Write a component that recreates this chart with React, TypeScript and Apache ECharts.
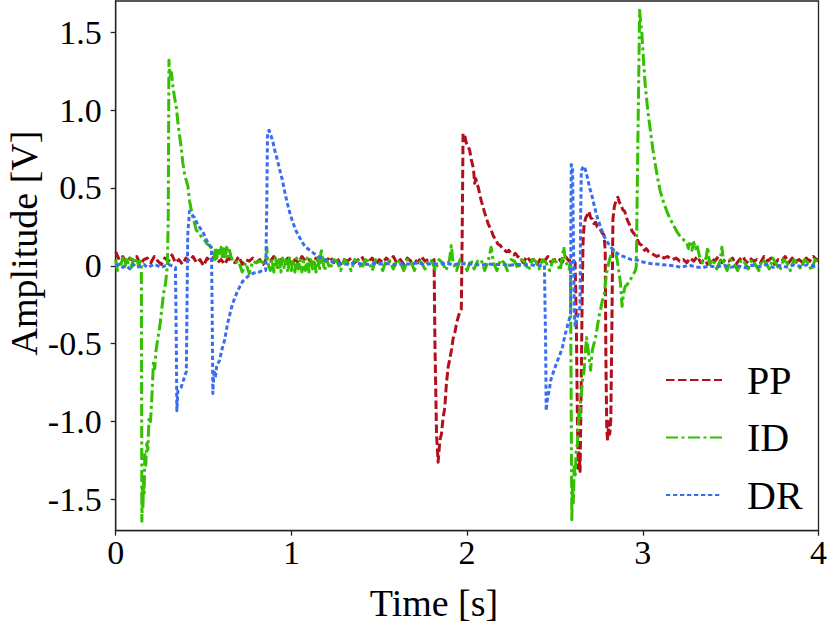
import React, { useEffect, useRef } from "react";
import * as echarts from "echarts";

const seriesNames = ["PP", "ID", "DR"];
const seriesColors = ["#b3101d", "#33c000", "#3a6ef2"];
const seriesDash = [[8.5, 3.5], [12, 3.5, 3, 3.5], [4.3, 2.7]];
const xTicks = [0, 1, 2, 3, 4];
const yTicks = [-1.5, -1, -0.5, 0, 0.5, 1, 1.5];
const xTitle = "Time [s]";
const yTitle = "Amplitude [V]";

const ppData = [
  [0, 0.09], [0.02, 0.04], [0.04, 0.06], [0.06, 0.02], [0.08, 0.05], [0.1, 0.03], [0.12, 0.06], [0.14, 0.01], [0.16, 0.04], [0.18, 0.05],
  [0.2, 0.02], [0.22, 0.06], [0.24, 0.03], [0.26, 0.01], [0.28, 0.05], [0.3, 0.03], [0.32, 0.07], [0.34, 0.02], [0.36, 0.04], [0.38, 0.01],
  [0.4, 0.05], [0.42, 0.03], [0.44, 0.06], [0.46, 0.02], [0.48, 0.04], [0.5, 0.0], [0.52, 0.05], [0.54, 0.03], [0.56, 0.06], [0.58, 0.02],
  [0.6, 0.04], [0.62, 0.01], [0.64, 0.05], [0.66, 0.03], [0.68, 0.02], [0.7, 0.06], [0.72, 0.01], [0.74, 0.04], [0.76, 0.03], [0.78, 0.05],
  [0.8, 0.02], [0.82, 0.04], [0.84, 0.01], [0.86, 0.05], [0.88, 0.03], [0.9, 0.06], [0.92, 0.02], [0.94, 0.04], [0.96, 0.03], [0.98, 0.05],
  [1.0, 0.01], [1.02, 0.04], [1.04, 0.02], [1.06, 0.06], [1.08, 0.03], [1.1, 0.04], [1.12, 0.01], [1.14, 0.05], [1.16, 0.02], [1.18, 0.04],
  [1.2, 0.03], [1.22, 0.06], [1.24, 0.02], [1.26, 0.05], [1.28, 0.01], [1.3, 0.04], [1.32, 0.03], [1.34, 0.05], [1.36, 0.02], [1.38, 0.04],
  [1.4, 0.06], [1.42, 0.02], [1.44, 0.03], [1.46, 0.05], [1.48, 0.01], [1.5, 0.04], [1.52, 0.02], [1.54, 0.05], [1.56, 0.03], [1.58, 0.06],
  [1.6, 0.02], [1.62, 0.04], [1.64, 0.01], [1.66, 0.05], [1.68, 0.03], [1.7, 0.04], [1.72, 0.02], [1.74, 0.06], [1.76, 0.03], [1.78, 0.04],
  [1.8, 0.03], [1.812, 0.04],
  [1.817, -0.5], [1.826, -1.08], [1.835, -1.26], [1.845, -1.12], [1.854, -1.08], [1.863, -0.98], [1.873, -0.91], [1.882, -0.76], [1.892, -0.65],
  [1.901, -0.6], [1.911, -0.54], [1.92, -0.47], [1.93, -0.43], [1.94, -0.37], [1.949, -0.33], [1.958, -0.3], [1.967, -0.28], [1.972, 0.2],
  [1.977, 0.85], [1.988, 0.83], [1.995, 0.79], [2.005, 0.77], [2.015, 0.74], [2.024, 0.68], [2.033, 0.64], [2.038, 0.6], [2.043, 0.53],
  [2.05, 0.56], [2.056, 0.52], [2.062, 0.51], [2.07, 0.47], [2.08, 0.42], [2.09, 0.38], [2.1, 0.34], [2.109, 0.31], [2.12, 0.27], [2.137, 0.23],
  [2.15, 0.19], [2.162, 0.17], [2.175, 0.14], [2.19, 0.13], [2.2, 0.11], [2.213, 0.1], [2.225, 0.09], [2.238, 0.1], [2.25, 0.08], [2.265, 0.07],
  [2.275, 0.08], [2.288, 0.06],
  [2.3, 0.05], [2.32, 0.02], [2.34, 0.06], [2.36, 0.03], [2.38, 0.04], [2.4, 0.01], [2.42, 0.05], [2.44, 0.03], [2.46, 0.06], [2.48, 0.02],
  [2.5, 0.04], [2.52, 0.05], [2.54, 0.02], [2.56, 0.06], [2.58, 0.03], [2.6, 0.04], [2.615, 0.02],
  [2.622, -0.4], [2.628, -1.0], [2.633, -1.3], [2.638, -1.2], [2.643, -1.32], [2.648, -0.9], [2.655, -0.2], [2.66, 0.15], [2.666, 0.27],
  [2.676, 0.31], [2.686, 0.33], [2.694, 0.35], [2.703, 0.31], [2.713, 0.3], [2.722, 0.27], [2.732, 0.28], [2.741, 0.25], [2.755, 0.24],
  [2.769, 0.21], [2.779, 0.2], [2.786, 0.1], [2.79, -0.6], [2.795, -1.05], [2.8, -1.12], [2.806, -1.0], [2.812, -1.08], [2.818, -0.98],
  [2.824, -0.4], [2.83, 0.3], [2.838, 0.38], [2.848, 0.42], [2.858, 0.44], [2.866, 0.41], [2.876, 0.39], [2.886, 0.36], [2.897, 0.35],
  [2.91, 0.3], [2.926, 0.26], [2.94, 0.22], [2.955, 0.2], [2.968, 0.17], [2.982, 0.14], [2.996, 0.13], [3.01, 0.1], [3.02, 0.11], [3.034, 0.09],
  [3.05, 0.08], [3.065, 0.07], [3.08, 0.06], [3.1, 0.07], [3.12, 0.05], [3.14, 0.06], [3.153, 0.05], [3.17, 0.04], [3.19, 0.05], [3.21, 0.03],
  [3.231, 0.04],
  [3.25, 0.02], [3.27, 0.05], [3.29, 0.03], [3.31, 0.06], [3.33, 0.02], [3.35, 0.04], [3.37, 0.01], [3.39, 0.05], [3.41, 0.03], [3.43, 0.06],
  [3.45, 0.02], [3.47, 0.04], [3.49, 0.03], [3.51, 0.05], [3.53, 0.01], [3.55, 0.04], [3.57, 0.06], [3.59, 0.02], [3.61, 0.05], [3.63, 0.03],
  [3.65, 0.04], [3.67, 0.02], [3.69, 0.06], [3.71, 0.03], [3.73, 0.05], [3.75, 0.01], [3.77, 0.04], [3.79, 0.03], [3.81, 0.06], [3.83, 0.02],
  [3.85, 0.05], [3.87, 0.03], [3.89, 0.04], [3.91, 0.02], [3.93, 0.05], [3.95, 0.03], [3.97, 0.06], [3.99, 0.04], [4.0, 0.03],
];

const idData = [
  [0, 0.04], [0.01, -0.03], [0.02, 0.03], [0.03, 0.01], [0.04, 0.05], [0.05, -0.02], [0.06, 0.04], [0.07, 0.02], [0.08, 0.05], [0.09, -0.01],
  [0.1, 0.04], [0.11, 0.02], [0.12, 0.05], [0.13, 0.0], [0.14, 0.03], [0.146, 0.02],
  [0.149, -1.64], [0.152, -1.42], [0.155, -1.56], [0.158, -1.38], [0.162, -1.46], [0.166, -1.2], [0.171, -1.28], [0.177, -1.14], [0.183, -1.18],
  [0.19, -0.97], [0.198, -1.0], [0.207, -0.82], [0.215, -0.61], [0.222, -0.66], [0.23, -0.54], [0.242, -0.45], [0.252, -0.38], [0.262, -0.28],
  [0.272, -0.18], [0.284, -0.11], [0.294, 0.0], [0.299, 0.3], [0.303, 1.32], [0.309, 1.22], [0.317, 1.24], [0.326, 1.15], [0.335, 1.08],
  [0.345, 1.02], [0.354, 0.92], [0.363, 0.84], [0.373, 0.76], [0.382, 0.66], [0.392, 0.59], [0.401, 0.55], [0.411, 0.51], [0.42, 0.42],
  [0.43, 0.36], [0.443, 0.3], [0.458, 0.23], [0.468, 0.22], [0.477, 0.21], [0.49, 0.18], [0.505, 0.165], [0.52, 0.14], [0.534, 0.13], [0.552, 0.1],
  [0.56, 0.04], [0.568, 0.12], [0.576, 0.05], [0.584, 0.11], [0.592, 0.06], [0.6, 0.12], [0.608, 0.04], [0.616, 0.11], [0.624, 0.05],
  [0.632, 0.12], [0.64, 0.06], [0.648, 0.1], [0.656, 0.06], [0.664, 0.04],
  [0.68, 0.02], [0.7, 0.03], [0.72, -0.04], [0.74, 0.02], [0.76, -0.05], [0.78, 0.03], [0.8, 0.02], [0.82, 0.03], [0.84, 0.02], [0.855, 0.03],
  [0.86, 0.12], [0.865, 0.02],
  [0.88, -0.03], [0.89, 0.04], [0.9, -0.04], [0.91, 0.05], [0.92, -0.03], [0.93, 0.04], [0.94, -0.04], [0.95, 0.05], [0.96, -0.02], [0.97, 0.04],
  [0.98, -0.04], [0.99, 0.05], [1.0, -0.03], [1.01, 0.04], [1.02, -0.04], [1.03, 0.05], [1.04, -0.02], [1.05, 0.04], [1.06, -0.04], [1.07, 0.03],
  [1.08, -0.03], [1.09, 0.05], [1.1, -0.04], [1.11, 0.04], [1.12, -0.02], [1.13, 0.04], [1.14, -0.04], [1.15, 0.05], [1.16, -0.03], [1.17, 0.11],
  [1.18, 0.02], [1.19, -0.03], [1.2, 0.04], [1.22, -0.02], [1.24, 0.04],
  [1.26, 0.03], [1.28, -0.03], [1.3, 0.04], [1.32, 0.02], [1.34, -0.03], [1.36, 0.04], [1.38, 0.03], [1.4, -0.02], [1.42, 0.04], [1.44, 0.03],
  [1.46, -0.03], [1.48, 0.04], [1.5, 0.02], [1.52, -0.03], [1.54, 0.04], [1.56, 0.03], [1.58, -0.02], [1.6, 0.04], [1.62, 0.02], [1.64, -0.03],
  [1.66, 0.04], [1.68, 0.03], [1.7, -0.03], [1.72, 0.04], [1.74, 0.02], [1.76, -0.02], [1.78, 0.04], [1.8, 0.03], [1.82, -0.03], [1.84, 0.04],
  [1.86, 0.02], [1.88, -0.03], [1.9, 0.04], [1.91, 0.13], [1.92, 0.02], [1.94, -0.03], [1.96, 0.04], [1.98, 0.02], [2.0, -0.03], [2.02, 0.04],
  [2.04, -0.02], [2.06, 0.03], [2.08, 0.04], [2.1, -0.03], [2.12, 0.03], [2.137, 0.12], [2.15, 0.02], [2.17, -0.03], [2.19, 0.04], [2.21, 0.02],
  [2.23, -0.03], [2.25, 0.04], [2.27, 0.03], [2.29, -0.02], [2.31, 0.04], [2.33, 0.02], [2.35, -0.03], [2.37, 0.04], [2.39, 0.03], [2.41, -0.02],
  [2.43, 0.04], [2.45, 0.02], [2.47, -0.03], [2.49, 0.04], [2.51, 0.02], [2.53, -0.03], [2.55, 0.12], [2.56, 0.03], [2.58, -0.02], [2.588, 0.02],
  [2.592, -0.8], [2.596, -1.63], [2.6, -1.4], [2.605, -1.52], [2.609, -1.29], [2.615, -1.36], [2.62, -1.2], [2.628, -1.14], [2.633, -1.02],
  [2.637, -0.93], [2.642, -0.98], [2.646, -0.86], [2.652, -0.8], [2.658, -0.72], [2.666, -0.67], [2.673, -0.55], [2.68, -0.46], [2.687, -0.52],
  [2.694, -0.58], [2.703, -0.67], [2.708, -0.6], [2.713, -0.54], [2.722, -0.5], [2.731, -0.46], [2.74, -0.4], [2.75, -0.33], [2.76, -0.28],
  [2.77, -0.22], [2.779, -0.2], [2.788, -0.1], [2.797, -0.03], [2.806, 0.02], [2.816, 0.06], [2.825, 0.08], [2.835, 0.1], [2.845, 0.08],
  [2.854, 0.04], [2.864, -0.04], [2.873, -0.11], [2.882, -0.26], [2.888, -0.2], [2.895, -0.15], [2.901, -0.13], [2.912, -0.12], [2.92, -0.1],
  [2.929, -0.09], [2.938, -0.07], [2.948, -0.05], [2.958, -0.03], [2.963, 0.0], [2.972, 0.8], [2.982, 1.64], [2.988, 1.56], [2.995, 1.49],
  [3.005, 1.3], [3.014, 1.16], [3.028, 1.0], [3.043, 0.87], [3.057, 0.75], [3.071, 0.65], [3.085, 0.56], [3.099, 0.48], [3.118, 0.41],
  [3.137, 0.35], [3.156, 0.3], [3.175, 0.26], [3.194, 0.22], [3.212, 0.19], [3.23, 0.17], [3.25, 0.15], [3.26, 0.11], [3.27, 0.16],
  [3.28, 0.1], [3.29, 0.15], [3.3, 0.11], [3.307, 0.14], [3.315, 0.1], [3.325, 0.05],
  [3.34, 0.02], [3.36, 0.05], [3.37, 0.12], [3.38, 0.01], [3.4, 0.04], [3.42, -0.02], [3.44, 0.03], [3.45, 0.12], [3.46, 0.02], [3.48, -0.03],
  [3.5, 0.04], [3.52, 0.01], [3.54, -0.03], [3.56, 0.04], [3.58, 0.02], [3.6, -0.02], [3.62, 0.04], [3.64, 0.01], [3.66, -0.03], [3.68, 0.04],
  [3.7, 0.02], [3.72, -0.02], [3.74, 0.05], [3.76, 0.01], [3.78, -0.03], [3.8, 0.04], [3.82, 0.02], [3.84, -0.03], [3.86, 0.04], [3.88, 0.01],
  [3.9, -0.02], [3.92, 0.04], [3.94, 0.02], [3.96, -0.03], [3.98, 0.04], [4.0, 0.02],
];

const drData = [
  [0, 0.0], [0.02, 0.01], [0.04, -0.01], [0.06, 0.0], [0.08, -0.02], [0.1, 0.01], [0.12, -0.01], [0.14, 0.0], [0.16, 0.01], [0.18, -0.01],
  [0.2, 0.0], [0.22, 0.01], [0.24, 0.0], [0.26, -0.01], [0.28, 0.0], [0.3, 0.01], [0.32, 0.0], [0.34, -0.01],
  [0.345, -0.5], [0.348, -0.93], [0.354, -0.8], [0.363, -0.79], [0.373, -0.78], [0.38, -0.75], [0.387, -0.73], [0.395, -0.7], [0.402, -0.68],
  [0.41, 0.2], [0.42, 0.35], [0.43, 0.33], [0.449, 0.31], [0.468, 0.26], [0.482, 0.24], [0.496, 0.22], [0.51, 0.18], [0.524, 0.15],
  [0.535, 0.13], [0.545, 0.12], [0.549, -0.3], [0.553, -0.82], [0.558, -0.7], [0.562, -0.67], [0.567, -0.72], [0.575, -0.64], [0.59, -0.61],
  [0.604, -0.54], [0.619, -0.48], [0.637, -0.37], [0.652, -0.3], [0.666, -0.24], [0.68, -0.2], [0.694, -0.16], [0.708, -0.13], [0.722, -0.1],
  [0.741, -0.08], [0.76, -0.06], [0.779, -0.05], [0.798, -0.04], [0.815, -0.04], [0.835, -0.03], [0.854, -0.03], [0.86, 0.4], [0.864, 0.86],
  [0.873, 0.87], [0.882, 0.84], [0.892, 0.81], [0.906, 0.74], [0.92, 0.68], [0.935, 0.61], [0.949, 0.55], [0.963, 0.47], [0.977, 0.4],
  [0.991, 0.34], [1.005, 0.29], [1.024, 0.23], [1.043, 0.19], [1.062, 0.15], [1.081, 0.12], [1.105, 0.1], [1.128, 0.08], [1.15, 0.06],
  [1.175, 0.05], [1.2, 0.035], [1.232, 0.026], [1.26, 0.02],
  [1.28, 0.015], [1.32, 0.01], [1.36, 0.02], [1.4, 0.012], [1.44, 0.008], [1.48, 0.018], [1.52, 0.01], [1.56, 0.015], [1.6, 0.005], [1.64, 0.015],
  [1.68, 0.01], [1.72, 0.02], [1.76, 0.008], [1.8, 0.015], [1.84, 0.01], [1.88, 0.018], [1.92, 0.006], [1.96, 0.015], [2.0, 0.01], [2.04, 0.012],
  [2.08, 0.004], [2.12, 0.012], [2.16, 0.008], [2.2, 0.01], [2.24, 0.003], [2.28, 0.01], [2.32, 0.005], [2.36, 0.008], [2.4, 0.0], [2.44, 0.003],
  [2.447, -0.5], [2.45, -0.93], [2.458, -0.85], [2.467, -0.8], [2.477, -0.73], [2.495, -0.67], [2.514, -0.61], [2.528, -0.57], [2.543, -0.52],
  [2.556, -0.45], [2.57, -0.39], [2.582, -0.34], [2.589, -0.31], [2.591, 0.3], [2.593, 0.65], [2.6, 0.64], [2.605, 0.2], [2.61, -0.3],
  [2.615, -0.39], [2.62, -0.35], [2.628, -0.33], [2.636, -0.3], [2.643, -0.26], [2.646, 0.3], [2.65, 0.61], [2.658, 0.63], [2.666, 0.64],
  [2.675, 0.61], [2.684, 0.57], [2.698, 0.5], [2.713, 0.44], [2.727, 0.37], [2.741, 0.31], [2.76, 0.25], [2.779, 0.19], [2.8, 0.15],
  [2.818, 0.12], [2.835, 0.1], [2.854, 0.08], [2.875, 0.065], [2.892, 0.06], [2.91, 0.05], [2.935, 0.04], [2.967, 0.037], [3.0, 0.025],
  [3.042, 0.015], [3.09, 0.01], [3.136, 0.005],
  [3.18, 0.0], [3.22, -0.01], [3.26, 0.005], [3.3, -0.006], [3.34, -0.012], [3.38, 0.0], [3.42, -0.008], [3.46, 0.006], [3.5, -0.01], [3.54, 0.0],
  [3.58, -0.012], [3.62, 0.004], [3.66, -0.006], [3.7, 0.008], [3.74, -0.01], [3.78, 0.002], [3.82, -0.008], [3.86, 0.006], [3.9, -0.004],
  [3.94, 0.008], [3.98, -0.002], [4.0, 0.0],
];

const seriesData = [ppData, idData, drData];
const FONT = "Liberation Serif";
const AXIS_COLOR = "#222";

export default function App() {
  const ref = useRef<HTMLDivElement>(null);
  useEffect(() => {
    if (!ref.current) return;
    const chart = echarts.init(ref.current, null, { renderer: "svg" });
    chart.setOption({
      animation: false,
      backgroundColor: "#ffffff",
      grid: {
        left: 115.7,
        right: 6.7,
        top: 1,
        bottom: 96.3,
        show: true,
        borderColor: AXIS_COLOR,
        borderWidth: 1.3,
        backgroundColor: "transparent",
      },
      xAxis: {
        type: "value",
        min: 0,
        max: 4,
        interval: 1,
        axisLine: { show: true, onZero: false, lineStyle: { color: AXIS_COLOR, width: 1.3 } },
        axisTick: { show: true, length: 5, customValues: xTicks, lineStyle: { color: AXIS_COLOR, width: 1.3 } },
        axisLabel: {
          customValues: xTicks,
          color: "#000",
          fontFamily: FONT,
          fontSize: 34,
          margin: 5,
          formatter: (v: number) => String(v),
        },
        splitLine: { show: false },
      },
      yAxis: {
        type: "value",
        min: -1.7,
        max: 1.7,
        axisLine: { show: true, onZero: false, lineStyle: { color: AXIS_COLOR, width: 1.3 } },
        axisTick: { show: true, length: 5, customValues: yTicks, lineStyle: { color: AXIS_COLOR, width: 1.3 } },
        axisLabel: {
          customValues: yTicks,
          color: "#000",
          fontFamily: FONT,
          fontSize: 34,
          margin: 14,
          formatter: (v: number) => (Math.abs(v) < 1e-9 ? "0" : v.toFixed(1)),
        },
        splitLine: { show: false },
      },
      legend: {
        orient: "vertical",
        left: 665,
        top: 360,
        padding: 0,
        itemWidth: 56,
        itemHeight: 14,
        itemGap: 17.5,
        selectedMode: false,
        data: seriesNames,
        itemStyle: { opacity: 0, borderWidth: 0 },
        textStyle: {
          fontFamily: FONT,
          fontSize: 40,
          lineHeight: 40,
          color: "#000",
          padding: [0, 0, 0, 20],
        },
      },
      graphic: [
        {
          type: "text",
          x: 434,
          y: 603,
          style: {
            text: xTitle,
            fontFamily: FONT,
            fontSize: 38,
            fill: "#000",
            textAlign: "center",
            textVerticalAlign: "middle",
          },
        },
        {
          type: "text",
          x: 24,
          y: 243,
          rotation: Math.PI / 2,
          style: {
            text: yTitle,
            fontFamily: FONT,
            fontSize: 38,
            fill: "#000",
            textAlign: "center",
            textVerticalAlign: "middle",
          },
        },
      ],
      series: seriesNames.map((name, i) => ({
        name,
        type: "line",
        data: seriesData[i],
        showSymbol: false,
        symbol: "none",
        silent: true,
        z: 2 + i,
        emphasis: { disabled: true },
        itemStyle: { color: seriesColors[i] },
        lineStyle: {
          color: seriesColors[i],
          width: 3,
          type: seriesDash[i],
          cap: "butt",
          join: "round",
        },
      })),
    });
    return () => chart.dispose();
  }, []);
  return (
    <div
      ref={ref}
      style={{ position: "fixed", left: 0, top: 0, width: 830, height: 627, background: "#fff" }}
    />
  );
}
